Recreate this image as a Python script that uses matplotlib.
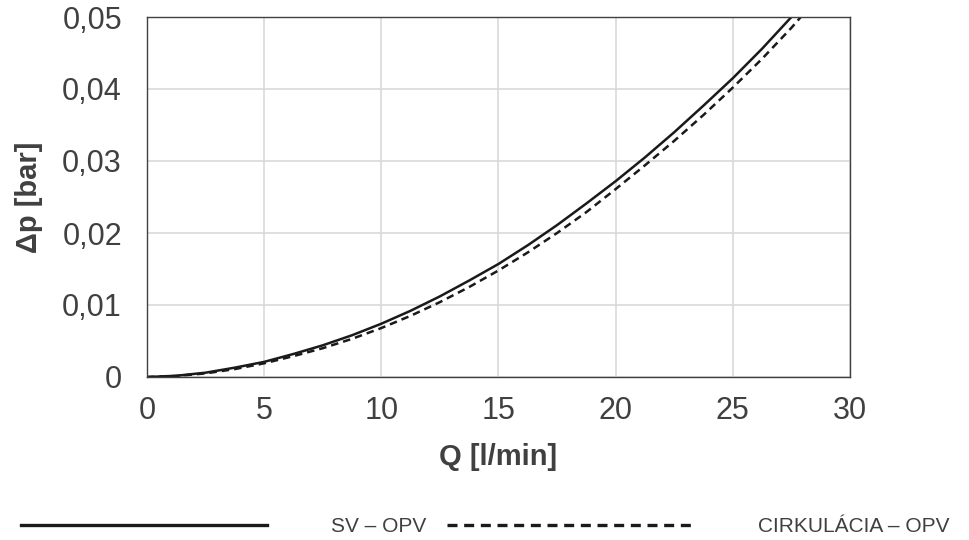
import matplotlib
matplotlib.use("Agg")
import matplotlib.pyplot as plt
from matplotlib.ticker import FuncFormatter, MultipleLocator

plt.rcParams['font.family'] = ['Liberation Sans', 'DejaVu Sans']

# Data
q_sv = [0, 1.25, 2.5, 3.75, 5, 6.25, 7.5, 8.75, 10, 11.25, 12.5, 13.75, 15, 16.25,
        17.5, 18.75, 20, 21.25, 22.5, 23.75, 25, 26.25, 27.5]
dp_sv = [0, 0.00017, 0.0006, 0.0013, 0.0021, 0.0032, 0.0044, 0.0058, 0.0074, 0.0092,
         0.0112, 0.0134, 0.0157, 0.0183, 0.0211, 0.0241, 0.0272, 0.0305, 0.0340,
         0.0377, 0.0415, 0.0456, 0.0500]
q_cir = [0, 1.25, 2.5, 3.75, 5, 6.25, 7.5, 8.75, 10, 11.25, 12.5, 13.75, 15, 16.25,
         17.5, 18.75, 20, 21.25, 22.5, 23.75, 25, 26.25, 27.5, 27.9]
dp_cir = [0, 0.00014, 0.0005, 0.0011, 0.0019, 0.0029, 0.0040, 0.0053, 0.0068, 0.0085,
          0.0104, 0.0125, 0.0148, 0.0173, 0.0200, 0.0229, 0.0261, 0.0294, 0.0328,
          0.0364, 0.0402, 0.0442, 0.0485, 0.0500]
labels = ['SV – OPV', 'CIRKULÁCIA – OPV']

fig = plt.figure(figsize=(9.7, 5.4), dpi=100)
ax = fig.add_axes([147/970, 1-377/540, (850-147)/970, (377-17)/540])

ax.plot(q_sv, dp_sv, color='#1a1a1a', lw=1.8, label=labels[0])
ax.plot(q_cir, dp_cir, color='#1a1a1a', lw=1.8, dashes=(3, 2), label=labels[1])

ax.set_xlim(0, 30)
ax.set_ylim(0, 0.05)
ax.xaxis.set_major_locator(MultipleLocator(5))
ax.yaxis.set_major_locator(MultipleLocator(0.01))

def fmt(v, pos):
    if abs(v) < 1e-12:
        return '0'
    return f'{v:.2f}'.replace('.', ',')

ax.yaxis.set_major_formatter(FuncFormatter(fmt))
ax.xaxis.set_major_formatter(FuncFormatter(lambda v, p: f'{int(round(v))}'))

ax.grid(True, color='#d9d9d9', lw=1.2)
ax.set_axisbelow(True)
for s in ax.spines.values():
    s.set_color('#404040')
    s.set_linewidth(1.0)

ax.tick_params(axis='both', length=0, labelsize=22, labelcolor='#404040')
ax.tick_params(axis='y', pad=18)
ax.tick_params(axis='x', pad=14)
for t in ax.get_xticklabels():
    t.set_x(t.get_position()[0])

ax.set_xlabel('Q [l/min]', fontsize=21, fontweight='bold', color='#404040', labelpad=12)
ax.set_ylabel('Δp [bar]', fontsize=21, fontweight='bold', color='#404040', labelpad=14)

leg = fig.legend(loc='center', bbox_to_anchor=(0.5, 1-527/540), ncol=2, frameon=False,
                 fontsize=15, handlelength=11.8, handletextpad=3.1, columnspacing=1.0,
                 labelcolor='#404040')
for ln in leg.get_lines():
    ln.set_linewidth(2.4)

fig.savefig('out.png', dpi=100)
